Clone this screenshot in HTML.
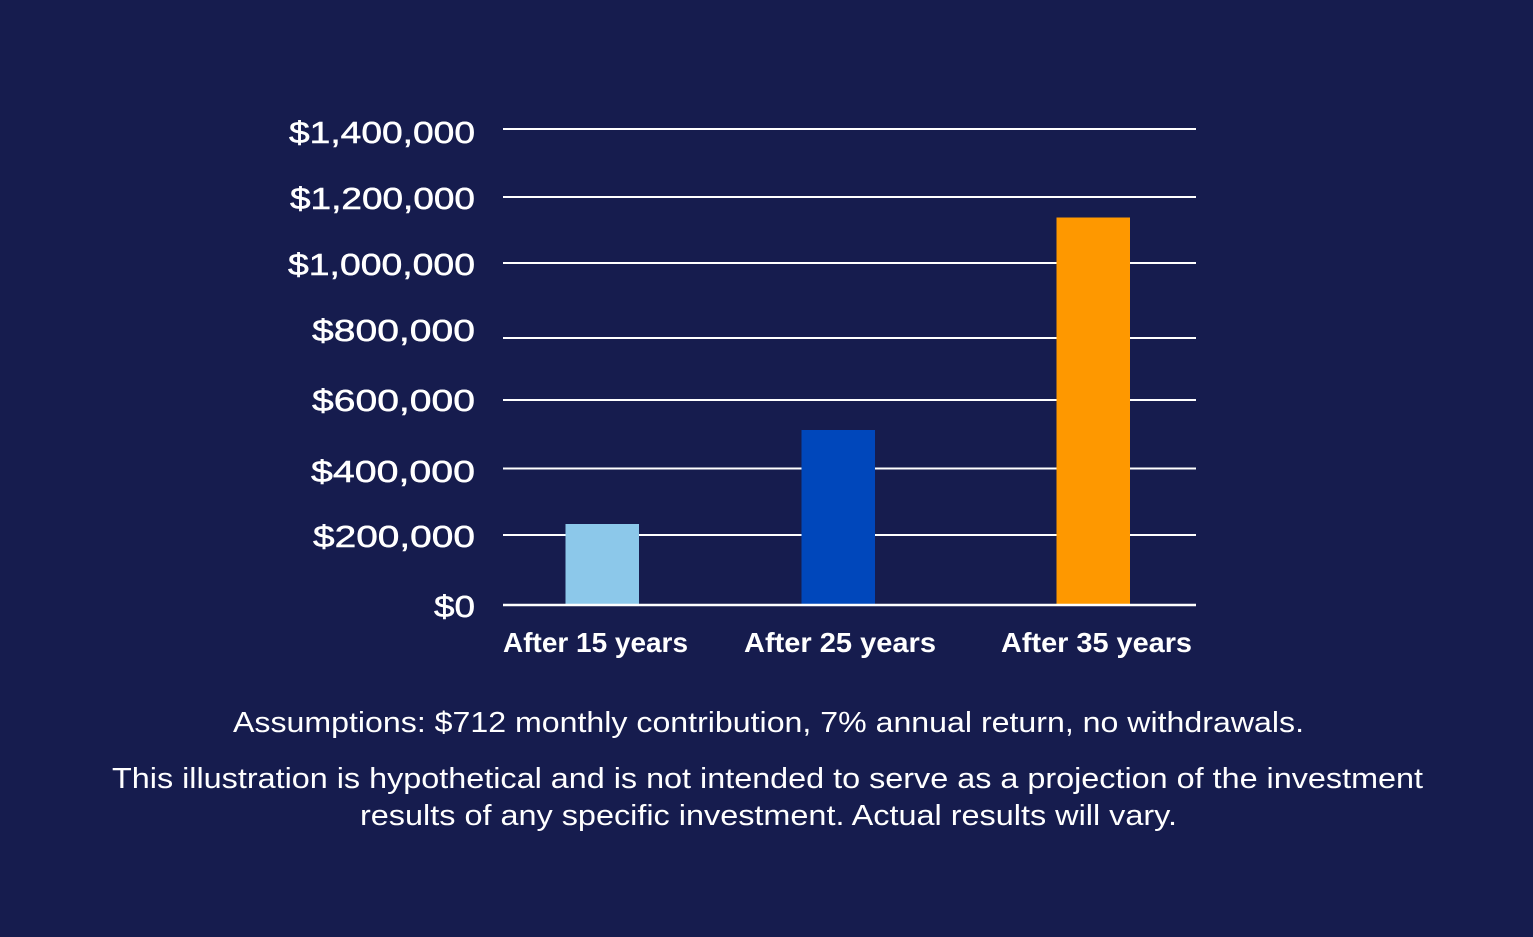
<!DOCTYPE html>
<html>
<head>
<meta charset="utf-8">
<style>
  html, body { margin: 0; padding: 0; background: #161c4e; }
  body { width: 1533px; height: 937px; overflow: hidden; }
  svg { display: block; }
  text { font-family: "Liberation Sans", "DejaVu Sans", sans-serif; fill: #ffffff; }
</style>
</head>
<body>
<svg width="1533" height="937" viewBox="0 0 1533 937" xmlns="http://www.w3.org/2000/svg">
  <rect x="0" y="0" width="1533" height="937" fill="#161c4e"/>

  <!-- grid lines -->
  <g stroke="#ffffff" stroke-width="2">
    <line x1="503" y1="129" x2="1196" y2="129"/>
    <line x1="503" y1="197" x2="1196" y2="197"/>
    <line x1="503" y1="263" x2="1196" y2="263"/>
    <line x1="503" y1="338" x2="1196" y2="338"/>
    <line x1="503" y1="400" x2="1196" y2="400"/>
    <line x1="503" y1="468.5" x2="1196" y2="468.5"/>
    <line x1="503" y1="535" x2="1196" y2="535"/>
  </g>

  <!-- bars -->
  <rect x="565.5" y="524" width="73.5" height="81" fill="#8cc8ea"/>
  <rect x="801.5" y="430" width="73.5" height="175" fill="#0047bb"/>
  <rect x="1056.5" y="217.5" width="73.5" height="387.5" fill="#fe9800"/>

  <!-- baseline -->
  <line x1="503" y1="605" x2="1196" y2="605" stroke="#ffffff" stroke-width="2.6"/>

  <!-- y labels -->
  <g font-size="31" text-anchor="end" stroke="#ffffff" stroke-width="0.5">
    <text x="475" y="143" textLength="186" lengthAdjust="spacingAndGlyphs">$1,400,000</text>
    <text x="475" y="209" textLength="185" lengthAdjust="spacingAndGlyphs">$1,200,000</text>
    <text x="475" y="275" textLength="187" lengthAdjust="spacingAndGlyphs">$1,000,000</text>
    <text x="475" y="341" textLength="163" lengthAdjust="spacingAndGlyphs">$800,000</text>
    <text x="475" y="411" textLength="163" lengthAdjust="spacingAndGlyphs">$600,000</text>
    <text x="475" y="482" textLength="164" lengthAdjust="spacingAndGlyphs">$400,000</text>
    <text x="475" y="547" textLength="162" lengthAdjust="spacingAndGlyphs">$200,000</text>
    <text x="475" y="617" textLength="41" lengthAdjust="spacingAndGlyphs">$0</text>
  </g>

  <!-- x labels -->
  <g font-size="28" font-weight="bold">
    <text x="503" y="652" textLength="185" lengthAdjust="spacingAndGlyphs">After 15 years</text>
    <text x="744" y="652" textLength="192" lengthAdjust="spacingAndGlyphs">After 25 years</text>
    <text x="1001" y="652" textLength="191" lengthAdjust="spacingAndGlyphs">After 35 years</text>
  </g>

  <!-- footnotes -->
  <g font-size="29">
    <text x="233" y="732" textLength="1071" lengthAdjust="spacingAndGlyphs">Assumptions: $712 monthly contribution, 7% annual return, no withdrawals.</text>
    <text x="112" y="788" textLength="1311" lengthAdjust="spacingAndGlyphs">This illustration is hypothetical and is not intended to serve as a projection of the investment</text>
    <text x="360" y="825" textLength="817" lengthAdjust="spacingAndGlyphs">results of any specific investment. Actual results will vary.</text>
  </g>
</svg>
</body>
</html>
